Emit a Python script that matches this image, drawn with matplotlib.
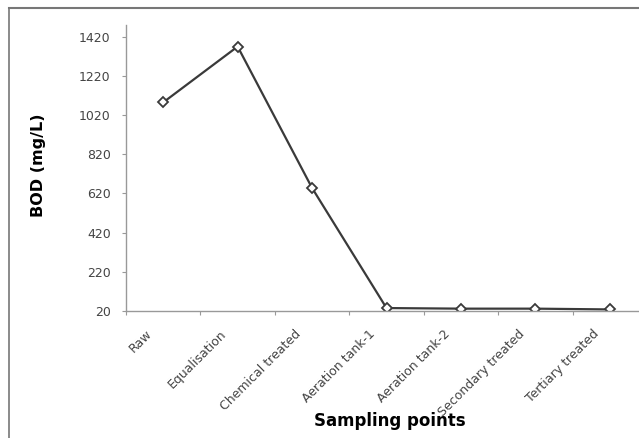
import matplotlib
matplotlib.use("Agg")
import matplotlib.pyplot as plt
from matplotlib.lines import Line2D
from matplotlib.transforms import ScaledTranslation

categories = ["Raw", "Equalisation", "Chemical treated", "Aeration tank-1",
              "Aeration tank-2", "Secondary treated", "Tertiary treated"]
bod = [1085, 1370, 648, 35, 32, 32, 28]
yticks = [20, 220, 420, 620, 820, 1020, 1220, 1420]

plt.rcParams['font.family'] = ['DejaVu Sans']

fig = plt.figure(figsize=(6.39, 4.38), dpi=100)
W, H = 639, 438
ax = fig.add_axes([126 / W, 1 - 311 / H, (647 - 126) / W, (311 - 25) / H])

x = [i + 0.5 for i in range(len(categories))]
ax.plot(x, bod, color='#3a3a3a', lw=1.6, marker='D', markersize=5,
        markerfacecolor='white', markeredgecolor='#3a3a3a', markeredgewidth=1.3)

ax.set_xlim(0, len(categories))
ax.set_ylim(20, 1480)
ax.set_yticks(yticks)
ax.set_yticklabels([str(t) for t in yticks], fontsize=9, color='#444444')
ax.set_xticks(range(len(categories) + 1))
ax.set_xticklabels([])
ax.set_xticks(x, minor=True)
ax.set_xticklabels(categories, minor=True, rotation=45, ha='right', va='center',
                   rotation_mode='anchor', fontsize=9, color='#444444')
ax.tick_params(axis='x', which='minor', length=0, pad=15)
ax.tick_params(axis='x', which='major', length=3, color='#999999', direction='out')
ax.tick_params(axis='y', length=3, color='#999999', direction='out', pad=8)
off = ScaledTranslation(-13 / 100, 0, fig.dpi_scale_trans)
for lab in ax.get_xticklabels(minor=True):
    lab.set_transform(lab.get_transform() + off)

for s in ['top', 'right']:
    ax.spines[s].set_visible(False)
for s in ['left', 'bottom']:
    ax.spines[s].set_color('#999999')
    ax.spines[s].set_linewidth(1.0)

fig.text(38 / W, 1 - 165 / H, "BOD (mg/L)", rotation=90, fontsize=11.5,
         fontweight='bold', ha='center', va='center')
fig.text(390 / W, 1 - 421 / H, "Sampling points", fontsize=12,
         fontweight='bold', ha='center', va='center')

fig.add_artist(Line2D([9 / W, 1.0], [1 - 8 / H, 1 - 8 / H], color='#777777', lw=1.5,
                      transform=fig.transFigure))
fig.add_artist(Line2D([9 / W, 9 / W], [1 - 8 / H, 0], color='#777777', lw=1.2,
                      transform=fig.transFigure))

fig.savefig("out.png", dpi=100)
